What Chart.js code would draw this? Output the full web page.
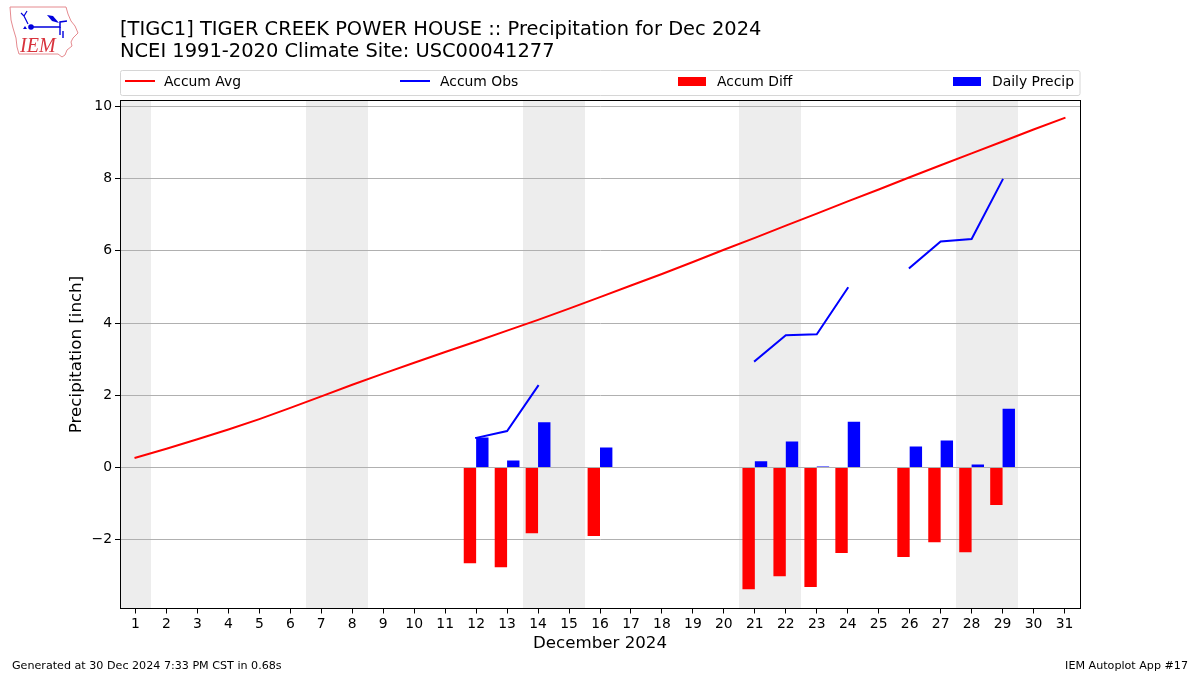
<!DOCTYPE html>
<html>
<head>
<meta charset="utf-8">
<title>Precipitation for Dec 2024</title>
<script src="https://cdn.jsdelivr.net/npm/chart.js@4"></script>
<style>
  body { margin: 0; background: #fff; }
  #wrap { position: relative; width: 1200px; height: 675px; }
  #logo { position: absolute; left: 0; top: 0; }
</style>
</head>
<body>
<div id="wrap">
  <canvas id="precipChart" width="1200" height="675"></canvas>
  <svg id="logo" width="90" height="65" viewBox="0 0 90 65">
    <path d="M10 7 L66 7 L68 14 L71 21 L75 26 L78 33 L73 38 L71 42 L72 46 L67 50 L65 55 L62 57 L58 54 L19 54 L17 47 L16 38 L13 28 L11 20 Z" fill="#fff" stroke="#e58a8f" stroke-width="1"/>
    <g stroke="#0000dd" fill="none">
      <path d="M31 27 L60 27 L60 22 L67 21" stroke-width="1.5"/>
      <path d="M28 24 L24 16 M21 13 L24 16 L27 11" stroke-width="1.2"/>
      <path d="M60 27 L60 35 M63 31 L63 38" stroke-width="1.4"/>
    </g>
    <circle cx="31" cy="27" r="2.8" fill="#0000dd"/>
    <path d="M47 15 L53 16 L59 23 L52 21 Z" fill="#0000dd"/>
    <path d="M23 29 L25 26 L27 29 Z" fill="#0000dd"/>
    <text x="20" y="52" font-family="Liberation Serif" font-style="italic" font-size="20" fill="#d8323c">IEM</text>
  </svg>
</div>
<script>
const days = ['1','2','3','4','5','6','7','8','9','10','11','12','13','14','15','16','17','18','19','20','21','22','23','24','25','26','27','28','29','30','31'];
const accumAvg = [0.27,0.52,0.78,1.05,1.34,1.65,1.97,2.29,2.60,2.90,3.20,3.49,3.79,4.09,4.40,4.72,5.04,5.36,5.69,6.03,6.36,6.70,7.03,7.37,7.70,8.04,8.37,8.70,9.03,9.36,9.68];
const accumObs = [null,null,null,null,null,null,null,null,null,null,null,0.82,1.01,2.26,null,null,null,null,null,null,2.95,3.66,3.69,4.97,null,5.53,6.26,6.33,7.97,null,null];
const accumDiff = [null,null,null,null,null,null,null,null,null,null,null,-2.65,-2.76,-1.82,null,-1.90,null,null,null,null,-3.37,-3.01,-3.31,-2.37,null,-2.48,-2.07,-2.35,-1.04,null,null];
const dailyPrecip = [null,null,null,null,null,null,null,null,null,null,null,0.83,0.19,1.25,null,0.55,null,null,null,null,0.17,0.72,0.03,1.27,null,0.58,0.75,0.08,1.63,null,null];
const weekendDays = [1,7,8,14,15,21,22,28,29];
const yTicks = [-2,0,2,4,6,8,10];

const titleLines = ['[TIGC1] TIGER CREEK POWER HOUSE :: Precipitation for Dec 2024', 'NCEI 1991-2020 Climate Site: USC00041277'];
const footerLeft = 'Generated at 30 Dec 2024 7:33 PM CST in 0.68s';
const footerRight = 'IEM Autoplot App #17';

const FONT = '"DejaVu Sans"';
Chart.defaults.font.family = FONT;
Chart.defaults.color = '#000';

// grey weekend bands, goes under the gridlines
const weekendBands = {
  id: 'weekendBands',
  beforeDraw(chart) {
    const { ctx, chartArea, scales } = chart;
    ctx.save();
    ctx.fillStyle = '#ededed';
    weekendDays.forEach((d) => {
      const x0 = Math.round(scales.x.getPixelForValue(d - 1.5));
      const x1 = Math.round(scales.x.getPixelForValue(d - 0.5));
      ctx.fillRect(x0, chartArea.top, x1 - x0, chartArea.bottom - chartArea.top);
    });
    ctx.restore();
  }
};

// matplotlib style expanded legend, frame on all sides and the footer text
const frameAndLegend = {
  id: 'frameAndLegend',
  afterDraw(chart) {
    const { ctx, chartArea } = chart;
    const l = Math.floor(chartArea.left) + 0.5;
    const t = Math.floor(chartArea.top) + 0.5;
    const r = Math.floor(chartArea.right) + 0.5;
    const b = Math.floor(chartArea.bottom) + 0.5;
    ctx.save();
    ctx.strokeStyle = '#000';
    ctx.lineWidth = 1;
    ctx.strokeRect(l, t, r - l, b - t);

    ctx.strokeStyle = '#d6d6d6';
    ctx.beginPath();
    ctx.roundRect(120.5, 70.5, 959.5, 25, 2);
    ctx.stroke();

    const handleX = [125, 400, 678, 953];
    const labelX = [164, 440, 717, 992];
    ctx.font = '13.9px ' + FONT;
    ctx.textBaseline = 'middle';
    chart.data.datasets.forEach((ds, i) => {
      if (ds.type === 'line') {
        ctx.strokeStyle = ds.borderColor;
        ctx.lineWidth = 2;
        ctx.beginPath();
        ctx.moveTo(handleX[i], 81);
        ctx.lineTo(handleX[i] + 30, 81);
        ctx.stroke();
      } else {
        ctx.fillStyle = ds.backgroundColor;
        ctx.fillRect(handleX[i], 77, 28, 9);
      }
      ctx.fillStyle = '#000';
      ctx.fillText(ds.label, labelX[i], 82);
    });

    ctx.font = '11.13px ' + FONT;
    ctx.textAlign = 'left';
    ctx.fillText(footerLeft, 12, 666);
    ctx.textAlign = 'right';
    ctx.fillText(footerRight, 1188, 666);
    ctx.restore();
  }
};

const config = {
  type: 'bar',
  data: {
    labels: days,
    datasets: [
      { type: 'line', label: 'Accum Avg', data: accumAvg, borderColor: '#ff0000', borderWidth: 2, pointRadius: 0, tension: 0, fill: false, borderCapStyle: 'square', order: 0 },
      { type: 'line', label: 'Accum Obs', data: accumObs, borderColor: '#0000ff', borderWidth: 2, pointRadius: 0, tension: 0, fill: false, borderCapStyle: 'square', order: 0 },
      { type: 'bar', label: 'Accum Diff', data: accumDiff, backgroundColor: '#ff0000', order: 1 },
      { type: 'bar', label: 'Daily Precip', data: dailyPrecip, backgroundColor: '#0000ff', order: 1 }
    ]
  },
  options: {
    responsive: false,
    animation: false,
    layout: { padding: { left: 65, right: 120, top: 18.5, bottom: 0 } },
    datasets: { bar: { categoryPercentage: 0.8, barPercentage: 1 } },
    plugins: {
      legend: { display: false },
      tooltip: { enabled: false },
      title: {
        display: true,
        text: titleLines,
        fullSize: false,
        align: 'start',
        color: '#000',
        font: { size: 19.45, weight: 'normal', lineHeight: 1.13 },
        padding: { top: 0, bottom: 38 }
      }
    },
    scales: {
      x: {
        offset: true,
        afterFit(axis) { axis.height = 66.5; },
        title: { display: true, text: 'December 2024', font: { size: 16.67 }, padding: { top: 3, bottom: 21 } },
        grid: { offset: false, drawOnChartArea: false, tickColor: '#000', tickLength: 5 },
        border: { color: '#000' },
        ticks: { autoSkip: false, maxRotation: 0, font: { size: 13.9 }, padding: 3 }
      },
      y: {
        min: -3.906,
        max: 10.166,
        afterFit(axis) { axis.width = 55; },
        afterBuildTicks(axis) { axis.ticks = yTicks.map((v) => ({ value: v })); },
        title: { display: true, text: 'Precipitation [inch]', font: { size: 16.67 }, padding: { top: 2, bottom: 0 } },
        grid: { color: '#b0b0b0', lineWidth: 1, tickColor: '#000', tickLength: 5 },
        border: { color: '#000' },
        ticks: { font: { size: 13.9 }, padding: 3, callback: (v) => String(v).replace('-', '\u2212') }
      }
    }
  },
  plugins: [weekendBands, frameAndLegend]
};

const ctx = document.getElementById('precipChart').getContext('2d');
const precipChart = new Chart(ctx, config);
</script>
</body>
</html>
